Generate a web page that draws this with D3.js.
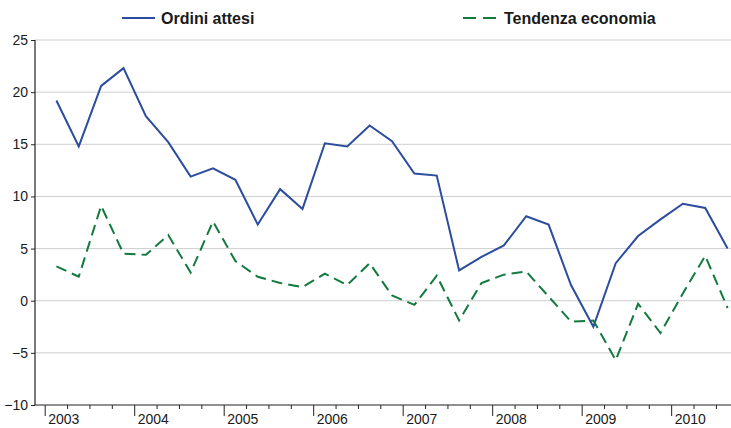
<!DOCTYPE html>
<html>
<head>
<meta charset="utf-8">
<script src="https://cdn.jsdelivr.net/npm/d3@7"></script>
<style>
  html, body { margin: 0; padding: 0; background: #fff; }
  svg { display: block; }
</style>
</head>
<body>
<div id="chart"></div>
<script>
// Quarterly data, 2003 Q1 .. 2010 Q3
const years = [2003, 2004, 2005, 2006, 2007, 2008, 2009, 2010];
const yTicks = [-10, -5, 0, 5, 10, 15, 20, 25];
const ordiniAttesi = [
    19.2, 14.8, 20.6, 22.3, 17.7, 15.2, 11.9, 12.7,
    11.6, 7.3, 10.7, 8.8, 15.1, 14.8, 16.8, 15.3,
    12.2, 12.0, 2.9, 4.2, 5.3, 8.1, 7.3, 1.5,
    -2.5, 3.6, 6.2, 7.8, 9.3, 8.9, 5.0
];
const tendenzaEconomia = [
    3.3, 2.3, 9.1, 4.5, 4.4, 6.3, 2.7, 7.6,
    3.8, 2.3, 1.7, 1.3, 2.6, 1.5, 3.6, 0.5,
    -0.4, 2.4, -1.9, 1.7, 2.5, 2.8, 0.4, -2.0,
    -1.9, -5.7, -0.3, -3.1, 0.7, 4.3, -0.7
];
const seriesNames = ['Ordini attesi', 'Tendenza economia'];

const totalW = 731, totalH = 428;
const plot = { left: 35, right: 731, top: 40, bottom: 405 };
const blue = '#2b4c9f', green = '#127a3e';
const font = 'Liberation Sans, Arial, sans-serif';

const svg = d3.select('#chart').append('svg')
    .attr('width', totalW).attr('height', totalH);

// time in fractional years, quarter points at mid-quarter
const x = d3.scaleLinear().domain([2002.886, 2010.663]).range([plot.left, plot.right]);
const y = d3.scaleLinear().domain([-10, 25]).range([plot.bottom, plot.top]);
const tOf = i => 2003 + i * 0.25 + 0.125;

// Grid
svg.append('g')
    .selectAll('line').data(yTicks.filter(v => v > -10)).join('line')
    .attr('x1', plot.left).attr('x2', plot.right)
    .attr('y1', d => y(d)).attr('y2', d => y(d))
    .attr('stroke', '#cfcfcf').attr('stroke-width', 1);

// Y axis
svg.append('g').attr('transform', `translate(${plot.left},0)`)
    .call(d3.axisLeft(y).tickValues(yTicks).tickSize(4).tickPadding(3))
    .call(ax => ax.select('.domain').attr('stroke', '#222').attr('stroke-width', 1.2).attr('d', `M0,${plot.top}V${plot.bottom}`))
    .call(ax => ax.selectAll('line').attr('stroke', '#222'))
    .call(ax => ax.selectAll('text').attr('fill', '#1a1a1a').attr('font-size', 14).attr('font-family', font));

// X axis: minor quarter ticks + major year ticks
const quarterTicks = d3.range(2003, 2010.76, 0.25);
const xAxisG = svg.append('g').attr('transform', `translate(0,${plot.bottom})`);
xAxisG.append('line').attr('x1', plot.left).attr('x2', plot.right)
    .attr('stroke', '#222').attr('stroke-width', 1.2);
xAxisG.selectAll('.minor').data(quarterTicks).join('line')
    .attr('class', 'minor')
    .attr('x1', d => x(d)).attr('x2', d => x(d))
    .attr('y1', 0).attr('y2', d => Number.isInteger(d) ? 11 : 4)
    .attr('stroke', '#222').attr('stroke-width', 1);
xAxisG.selectAll('text').data(years).join('text')
    .attr('x', d => x(d) + 3).attr('y', 19)
    .attr('font-size', 14).attr('font-family', font).attr('fill', '#1a1a1a')
    .text(d => d);

// Lines
const line = d3.line().x((_, i) => x(tOf(i))).y(d => y(d));
svg.append('path').datum(ordiniAttesi)
    .attr('fill', 'none').attr('stroke', blue).attr('stroke-width', 2)
    .attr('stroke-linejoin', 'miter').attr('d', line);
svg.append('path').datum(tendenzaEconomia)
    .attr('fill', 'none').attr('stroke', green).attr('stroke-width', 2)
    .attr('stroke-dasharray', '11,6').attr('d', line);

// Legend
const legend = [
    { name: seriesNames[0], color: blue, dash: null, x: 122 },
    { name: seriesNames[1], color: green, dash: '13,7', x: 463 }
];
legend.forEach(l => {
    svg.append('line').attr('x1', l.x).attr('x2', l.x + 33).attr('y1', 18).attr('y2', 18)
        .attr('stroke', l.color).attr('stroke-width', 2)
        .attr('stroke-dasharray', l.dash);
    svg.append('text').attr('x', l.x + (l.dash ? 41 : 39)).attr('y', 24)
        .attr('font-size', 16).attr('font-weight', 700).attr('font-family', font)
        .attr('fill', '#1a1a1a').text(l.name);
});
</script>
</body>
</html>
